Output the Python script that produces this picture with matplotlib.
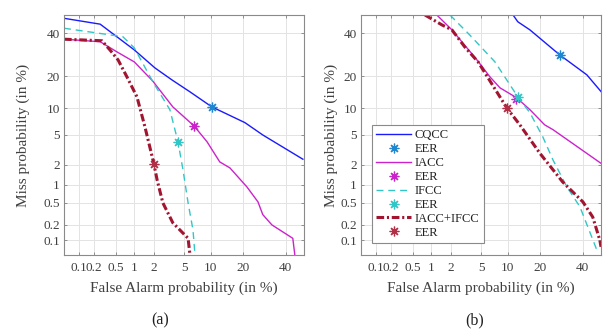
"""DET curves (CQCC / IACC / IFCC / fused) for two evaluation conditions."""

from statistics import NormalDist

import matplotlib

matplotlib.use("Agg")
import matplotlib.pyplot as plt
import numpy as np
from matplotlib.lines import Line2D

plt.rcParams["font.family"] = ["Liberation Serif", "DejaVu Serif"]
plt.rcParams["lines.scale_dashes"] = False

# values in %
TICKS = [0.1, 0.2, 0.5, 1, 2, 5, 10, 20, 40]
TICK_LABELS = ["0.1", "0.2", "0.5", "1", "2", "5", "10", "20", "40"]

# panel (a)
a_cqcc_fa = [0.05, 0.26, 1.0, 2.05, 3.5, 5.9, 10.3, 20.9, 28.6, 49.4]
a_cqcc_miss = [48.2, 45, 31.6, 23.4, 18.7, 14.6, 10.4, 7.0, 5.0, 2.4]
a_iacc_fa = [0.05, 0.26, 0.52, 1.0, 1.9, 3.6, 6.6, 9.2, 12.4, 15.5, 21.7, 26.4, 28.6, 33, 43.9, 45]
a_iacc_miss = [37, 35.7, 30.6, 26, 18.3, 10.4, 6.4, 4.1, 2.2, 1.8, 0.92, 0.52, 0.31, 0.2, 0.11, 0.05]
a_ifcc_fa = [0.05, 0.65, 1.0, 1.92, 3.3, 4.2, 4.85, 5.6, 6.4, 6.75]
a_ifcc_miss = [42.8, 38.3, 32.6, 17.9, 9.7, 4.1, 1.7, 0.5, 0.16, 0.05]
a_fused_fa = [0.05, 0.28, 0.39, 0.54, 0.76, 1.1, 1.46, 1.98, 2.2, 2.65, 3.6, 5.6, 5.9]
a_fused_miss = [37, 36.2, 31.6, 26.9, 19.8, 13.1, 6.25, 2.06, 1.19, 0.5, 0.22, 0.11, 0.05]
a_eer = {"cqcc": (10.3, 10.4), "iacc": (6.6, 6.4), "ifcc": (4.2, 4.1), "fused": (1.98, 2.06)}

# panel (b)
b_cqcc_fa = [11.4, 12.7, 16.5, 28.6, 42.3, 50]
b_cqcc_miss = [50, 46.3, 41.9, 29.2, 20.6, 14.7]
b_iacc_fa = [1.22, 2.05, 4.45, 6.4, 8.3, 12.4, 16.5, 22, 25.5, 50]
b_iacc_miss = [50, 41.9, 26.9, 19.8, 15.9, 12.8, 9.7, 6.6, 5.8, 2.1]
b_ifcc_fa = [1.92, 3.6, 7.3, 12.7, 16.5, 21.3, 25.5, 32, 38.6, 47.7]
b_ifcc_miss = [50, 39.2, 26, 13.1, 9, 4.7, 2.35, 0.92, 0.43, 0.064]
b_fused_fa = [0.79, 1.46, 2.05, 3.1, 4.6, 9.85, 13.3, 20.1, 30, 40.2, 45.5, 49.4, 50]
b_fused_miss = [50, 44.6, 41.9, 33, 26, 10.1, 6.6, 2.9, 1.1, 0.52, 0.28, 0.1, 0.074]
b_eer = {"cqcc": (28.6, 29.2), "iacc": (12.2, 12.5), "ifcc": (12.7, 13.1), "fused": (9.85, 10.1)}

STYLE = {
    "cqcc": dict(color="#1a1aff", lw=1.0, ls="-"),
    "iacc": dict(color="#cc22cc", lw=1.0, ls="-"),
    "ifcc": dict(color="#33c6c6", lw=1.0, dashes=(5, 3.5)),
    "fused": dict(color="#a2142f", lw=2.2, dashes=(5.5, 2, 1.5, 2)),
}
EER_COLOR = {"cqcc": "#1f86d0", "iacc": "#cc22cc", "ifcc": "#33c6c6", "fused": "#b03048"}
NAMES = {"cqcc": "CQCC", "iacc": "IACC", "ifcc": "IFCC", "fused": "IACC+IFCC"}
ASTERISK = (8, 2, 0)

_nd = NormalDist()


def probit(pct):
    return np.array([_nd.inv_cdf(p / 100.0) for p in np.atleast_1d(pct)])


LIM = (probit(0.05)[0], 0.0)


def det_axes(ax):
    ax.set_xlim(LIM)
    ax.set_ylim(LIM)
    ax.set_xticks(probit(TICKS))
    ax.set_xticklabels(TICK_LABELS)
    ax.set_yticks(probit(TICKS))
    ax.set_yticklabels(TICK_LABELS)
    ax.grid(True, color="#e3e3e3", lw=0.7)
    ax.set_axisbelow(True)
    ax.tick_params(direction="in", length=2.5, width=0.6, top=True, right=True,
                   labelsize=9.5, colors="#808080", labelcolor="#404040")
    ax.tick_params(axis="x", pad=5)
    ax.tick_params(axis="y", pad=3)
    for s in ax.spines.values():
        s.set_color("#8a8a8a")
        s.set_linewidth(0.8)
    ax.set_xlabel("False Alarm probability (in %)", fontsize=11, color="#404040")
    ax.set_ylabel("Miss probability (in %)", fontsize=11, color="#404040")
    ax.xaxis.set_label_coords(0.5, -0.112)


def draw(ax, curves, eer):
    for key, (fa, miss) in curves.items():
        ax.plot(probit(fa), probit(miss), **STYLE[key])
        ex, ey = eer[key]
        ax.plot(probit(ex), probit(ey), ls="none", marker=ASTERISK, ms=7,
                mew=0.9, color=EER_COLOR[key])


fig = plt.figure(figsize=(6.04, 3.29), dpi=100)
W, H = 604, 329
ax_a = fig.add_axes([64 / W, (H - 255) / H, 240 / W, 240 / H])
ax_b = fig.add_axes([361 / W, (H - 255) / H, 240 / W, 240 / H])

draw(ax_a, {"cqcc": (a_cqcc_fa, a_cqcc_miss), "iacc": (a_iacc_fa, a_iacc_miss),
            "ifcc": (a_ifcc_fa, a_ifcc_miss), "fused": (a_fused_fa, a_fused_miss)}, a_eer)
draw(ax_b, {"cqcc": (b_cqcc_fa, b_cqcc_miss), "iacc": (b_iacc_fa, b_iacc_miss),
            "ifcc": (b_ifcc_fa, b_ifcc_miss), "fused": (b_fused_fa, b_fused_miss)}, b_eer)

det_axes(ax_a)
det_axes(ax_b)
ax_a.yaxis.set_label_coords(-0.14, 0.5)
ax_b.yaxis.set_label_coords(-0.096, 0.5)

handles, labels = [], []
for key in ["cqcc", "iacc", "ifcc", "fused"]:
    handles.append(Line2D([], [], **STYLE[key]))
    labels.append(NAMES[key])
    handles.append(Line2D([], [], ls="none", marker=ASTERISK, ms=7, mew=0.9, color=EER_COLOR[key]))
    labels.append("EER")
leg = ax_b.legend(handles, labels, loc="lower left", bbox_to_anchor=(0.046, 0.05),
                  fontsize=9, frameon=True, fancybox=False, framealpha=1,
                  edgecolor="#8a8a8a", handlelength=2.75, handletextpad=0.3,
                  labelspacing=0.15, borderpad=0.35, borderaxespad=0)
leg.get_frame().set_linewidth(0.8)
for t in leg.get_texts():
    t.set_color("#202020")

fig.text(160 / W, 1 - 320 / H, "(a)", ha="center", va="center", fontsize=11.5, color="#202020")
fig.text(475 / W, 1 - 320 / H, "(b)", ha="center", va="center", fontsize=11.5, color="#202020")

fig.savefig("out.png", dpi=100)
